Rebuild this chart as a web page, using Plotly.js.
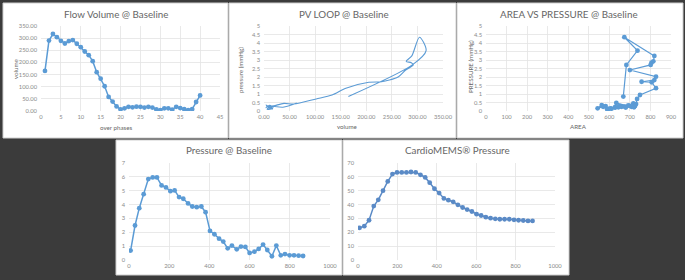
<!DOCTYPE html>
<html><head><meta charset="utf-8">
<script src="https://cdn.plot.ly/plotly-3.0.1.min.js"></script>
<style>html,body{margin:0;padding:0;background:#3b3b3b;}#chart{width:685px;height:280px;}</style>
</head><body><div id="chart"></div>
<script>
// ---- data ----
var phases = [1,2,3,4,5,6,7,8,9,10,11,12,13,14,15,16,17,18,19,20,21,22,23,24,25,26,27,28,29,30,31,32,33,34,35,36,37,38,39,40];
var flowVolume = [165,290,317,304,289,278,288,292,277,263,245,230,205,160,133,102,58,39,19,7,11,17,15,18,17,14,17,14,7,4,11,11,6,17,12,8,4,8,37,64];
var loopPressure = [0.85,2.71,3.55,4.34,3.24,2.92,2.84,2.71,2.41,2.02,1.82,1.72,1.69,1.34,0.94,0.71,0.41,0.45,0.30,0.25,0.33,0.25,0.29,0.22,0.25,0.22,0.14,0.12,0.29,0.35,0.16,0.25,0.10,0.15,0.20,0.28,0.20,0.30,0.22,0.47];
var area = [668,683,737,673,819,814,805,801,700,827,819,757,806,827,749,735,730,717,725,708,692,676,655,644,660,628,611,595,582,563,543,570,590,605,628,650,680,700,720,634];
var pressTime = [8,30,51,73,96,118,139,162,184,206,227,249,270,294,315,337,360,381,403,425,448,469,491,512,536,557,579,600,624,645,667,688,711,733,755,776,799,821,844,866];
var pressBaseline = [0.68,2.49,3.74,4.75,5.84,5.96,5.96,5.38,5.24,4.97,5.02,4.54,4.42,4.08,3.86,3.81,3.86,3.45,2.10,1.86,1.54,1.33,0.84,1.04,0.77,0.97,0.94,0.51,0.60,0.80,1.11,0.72,0.27,1.04,0.34,0.43,0.34,0.34,0.31,0.29];
var memsTime = [8,32,56,80,103,127,151,175,198,222,246,269,293,317,341,364,388,412,436,459,483,507,531,554,578,602,625,649,673,697,720,744,768,792,815,839,863,886];
var memsPressure = [23.2,24.4,28.7,38.9,43.4,50.0,56.7,62.0,63.2,63.2,63.2,63.5,63.2,61.5,59.6,55.8,51.4,48.3,44.4,43.2,42.0,39.8,37.9,36.4,35.0,33.1,32.1,30.9,30.2,29.7,29.4,29.4,29.4,29.0,28.7,28.5,28.2,28.2];
var titles = ["Flow Volume @ Baseline","PV LOOP @ Baseline","AREA VS PRESSURE @ Baseline","Pressure @ Baseline","CardioMEMS\u00ae Pressure"];

// ---- layout helpers ----
var W = 685, H = 280;
var BLUE = '#5b9bd5';
var FONT = 'Lato, "Open Sans", sans-serif';
function px(x){return x/W;}
function py(y){return 1 - y/H;}
function axis(dom, range, dtick, extra){
  var a = {domain:dom, range:range, dtick:dtick, tick0:0, showgrid:true, gridcolor:'#e3e3e3', gridwidth:0.8,
    zeroline:false, showline:false, ticks:'', tickfont:{size:5.8, color:'#8a8a8a', family:FONT}, fixedrange:true};
  for (var k in extra) a[k] = extra[k];
  return a;
}
function xax(dom, range, dtick, extra){ extra.ticklabelstandoff = 1; return axis(dom, range, dtick, extra); }
function yax(dom, range, dtick, extra){ extra.ticklabelstandoff = 3; return axis(dom, range, dtick, extra); }
var mk = {color:BLUE, size:4.8};
var ln = {color:BLUE, width:1.5};
var traces = [
  {x:phases, y:flowVolume, mode:'lines+markers', marker:mk, line:ln, xaxis:'x', yaxis:'y'},
  {x:flowVolume, y:loopPressure, mode:'lines', line:{color:BLUE, width:1.1, shape:'spline', smoothing:0.8}, xaxis:'x2', yaxis:'y2'},
  {x:area, y:loopPressure, mode:'lines+markers', marker:mk, line:{color:BLUE, width:1.2}, xaxis:'x3', yaxis:'y3'},
  {x:pressTime, y:pressBaseline, mode:'lines+markers', marker:mk, line:ln, xaxis:'x4', yaxis:'y4'},
  {x:memsTime, y:memsPressure, mode:'lines+markers', marker:{color:'#5a8ac6', size:4.8}, line:{color:'#5a8ac6', width:1.5}, xaxis:'x5', yaxis:'y5'}
];
var topY = [py(111), py(26)];
var botY = [py(260), py(163)];
var panels = [[3,3,228,138],[229,3,456,138],[457,3,683,138],[116,140,342,275],[343,140,569,275]];
var shapes = panels.map(function(p){
  return {type:'rect', xref:'paper', yref:'paper', x0:px(p[0]), x1:px(p[2]), y0:py(p[3]), y1:py(p[1]),
    fillcolor:'#ffffff', line:{color:'#cfcfcf', width:1}, layer:'below'};
});
function ann(text, x, y, size, angle){
  return {text:text, x:px(x), y:py(y), xref:'paper', yref:'paper', showarrow:false, xanchor:'center', yanchor:'middle',
    textangle:angle||0, font:{size:size, color:'#666666', family:FONT}};
}
var titlePos = [[116,14],[344,14],[569,14],[229,150],[457,150]];
var annotations = titles.map(function(t,i){return ann(t, titlePos[i][0], titlePos[i][1], 9.8);});
annotations.push(ann('over phases',116,128,6.2));
annotations.push(ann('volume',15,69,6.2,-90));
annotations.push(ann('volume',347,127,6.2));
annotations.push(ann('pressure (mmHg)',240,70,6.2,-90));
annotations.push(ann('AREA',578,127,6.2));
annotations.push(ann('PRESSURE (mmHg)',470,67,6.2,-90));

var layout = {
  width:W, height:H, margin:{l:0,r:0,t:0,b:0}, showlegend:false,
  paper_bgcolor:'#3b3b3b', plot_bgcolor:'#ffffff', font:{family:FONT},
  shapes:shapes, annotations:annotations,
  xaxis:  xax([px(41),px(220)], [0,45], 5, {anchor:'y'}),
  yaxis:  yax(topY, [0,350], 50, {anchor:'x', tickformat:'.2f'}),
  xaxis2: xax([px(264),px(443)], [0,350], 50, {anchor:'y2', tickformat:'.2f'}),
  yaxis2: yax(topY, [0,5], 0.5, {anchor:'x2'}),
  xaxis3: xax([px(486),px(671)], [0,900], 100, {anchor:'y3'}),
  yaxis3: yax(topY, [0,5], 0.5, {anchor:'x3'}),
  xaxis4: xax([px(129),px(330)], [0,1000], 200, {anchor:'y4'}),
  yaxis4: yax(botY, [0,7], 1, {anchor:'x4'}),
  xaxis5: xax([px(358),px(555)], [0,1000], 200, {anchor:'y5'}),
  yaxis5: yax(botY, [0,70], 10, {anchor:'x5'})
};
Plotly.newPlot('chart', traces, layout, {staticPlot:true, displayModeBar:false});
</script></body></html>
